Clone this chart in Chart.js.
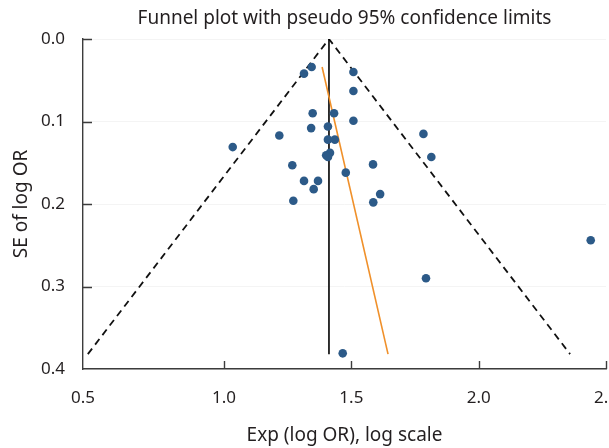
<!DOCTYPE html>
<html>
<head>
<meta charset="utf-8">
<script src="https://cdn.jsdelivr.net/npm/chart.js@4"></script>
<style>
  html, body { margin: 0; padding: 0; background: #fff; overflow: hidden; }
  #wrap { width: 640px; height: 448px; }
</style>
</head>
<body>
<div id="wrap"><canvas id="funnel" width="640" height="448"></canvas></div>
<script>
// Study estimates: OR and SE of log OR
const studyOR = [1.344, 1.314, 1.508, 1.508, 1.348, 1.432, 1.508, 1.342, 1.408, 1.217,
                 1.783, 1.408, 1.435, 1.034, 1.814, 1.416, 1.401, 1.408, 1.268, 1.585,
                 1.478, 1.314, 1.369, 1.352, 1.613, 1.272, 1.586, 2.440, 1.793, 1.466];
const studySE = [0.034, 0.042, 0.040, 0.063, 0.090, 0.090, 0.099, 0.108, 0.106, 0.117,
                 0.115, 0.122, 0.122, 0.131, 0.143, 0.138, 0.141, 0.143, 0.153, 0.152,
                 0.162, 0.172, 0.172, 0.182, 0.188, 0.196, 0.198, 0.244, 0.290, 0.381];

// Pseudo 95% limits, pooled estimate and regression line
const funnelX = [0.465, 1.412, 2.359];
const funnelSE = [0.382, 0, 0.382];
const pooledX = [1.412, 1.412];
const pooledSE = [0, 0.382];
const eggerX = [1.385, 1.644];
const eggerSE = [0.034, 0.382];

// Axis ticks
const xMin = 0.446;
const xTickValues = [xMin, 1.0, 1.5, 2.0, 2.5];
const xTickLabels = ['0.5', '1.0', '1.5', '2.0', '2.5'];
const yTickValues = [0, 0.1, 0.2, 0.3, 0.4];

const textColor = '#231f20';
const axisColor = '#3c3c3c';
const font = "'Noto Sans', 'DejaVu Sans', sans-serif";

function toPoints(xs, ys) {
    return xs.map((x, i) => ({ x: x, y: ys[i] }));
}

// short tick marks pointing into the plot
const innerTicks = {
    id: 'innerTicks',
    afterDatasetsDraw(chart) {
        const ctx = chart.ctx;
        const xs = chart.scales.x, ys = chart.scales.y;
        const area = chart.chartArea;
        ctx.save();
        ctx.strokeStyle = axisColor;
        ctx.lineWidth = 1.4;
        ctx.beginPath();
        xTickValues.slice(1).forEach(v => {
            const px = Math.round(xs.getPixelForValue(v)) + 0.5;
            ctx.moveTo(px, area.bottom);
            ctx.lineTo(px, area.bottom - 8);
        });
        yTickValues.slice(0, -1).forEach(v => {
            const py = Math.round(ys.getPixelForValue(v)) + 0.5;
            ctx.moveTo(area.left, py);
            ctx.lineTo(area.left + 9, py);
        });
        ctx.stroke();
        ctx.restore();
    }
};

new Chart(document.getElementById('funnel'), {
    type: 'scatter',
    data: {
        datasets: [
            {
                label: 'Studies',
                data: toPoints(studyOR, studySE),
                backgroundColor: '#2c5a88',
                borderWidth: 0,
                pointRadius: 4.3,
                order: 0
            },
            {
                label: 'Pseudo 95% CI',
                data: toPoints(funnelX, funnelSE),
                showLine: true,
                borderColor: '#111',
                borderWidth: 1.8,
                borderDash: [7, 5],
                pointRadius: 0,
                order: 3
            },
            {
                label: 'Pooled',
                data: toPoints(pooledX, pooledSE),
                showLine: true,
                borderColor: '#000',
                borderWidth: 1.6,
                pointRadius: 0,
                order: 2
            },
            {
                label: 'Regression',
                data: toPoints(eggerX, eggerSE),
                showLine: true,
                borderColor: '#f0902a',
                borderWidth: 1.6,
                pointRadius: 0,
                order: 1
            }
        ]
    },
    options: {
        responsive: false,
        animation: false,
        devicePixelRatio: 1,
        layout: { padding: { left: 0, right: 34, top: 0, bottom: 0 } },
        plugins: {
            legend: { display: false },
            tooltip: { enabled: false },
            title: {
                display: true,
                fullSize: false,
                text: 'Funnel plot with pseudo 95% confidence limits',
                color: textColor,
                font: { family: font, size: 19, weight: 'normal' },
                padding: { top: 7.5, bottom: 8.7 }
            }
        },
        scales: {
            x: {
                type: 'linear',
                min: xMin,
                max: 2.5,
                afterBuildTicks: scale => {
                    scale.ticks = xTickValues.map(v => ({ value: v }));
                },
                afterFit: scale => { scale.height = 79; },
                grid: { display: false, drawTicks: false },
                border: { display: true, color: axisColor, width: 1.4 },
                ticks: {
                    padding: 19,
                    maxRotation: 0,
                    autoSkip: false,
                    color: textColor,
                    font: { family: font, size: 17 },
                    callback: (value, index) => xTickLabels[index]
                },
                title: {
                    display: true,
                    text: 'Exp (log OR), log scale',
                    color: textColor,
                    font: { family: font, size: 19 },
                    padding: { top: 0, bottom: 1 }
                }
            },
            y: {
                type: 'linear',
                reverse: true,
                min: 0,
                max: 0.4,
                afterBuildTicks: scale => {
                    scale.ticks = yTickValues.map(v => ({ value: v }));
                },
                afterFit: scale => { scale.width = 83; },
                grid: { color: '#f4f4f4', lineWidth: 1, drawTicks: false },
                border: { display: true, color: axisColor, width: 1.4 },
                ticks: {
                    padding: 18,
                    color: textColor,
                    font: { family: font, size: 17 },
                    callback: value => value.toFixed(1)
                },
                title: {
                    display: true,
                    text: 'SE of log OR',
                    color: textColor,
                    font: { family: font, size: 19 },
                    padding: { top: 10, bottom: 0 }
                }
            }
        }
    },
    plugins: [innerTicks]
});
</script>
</body>
</html>
